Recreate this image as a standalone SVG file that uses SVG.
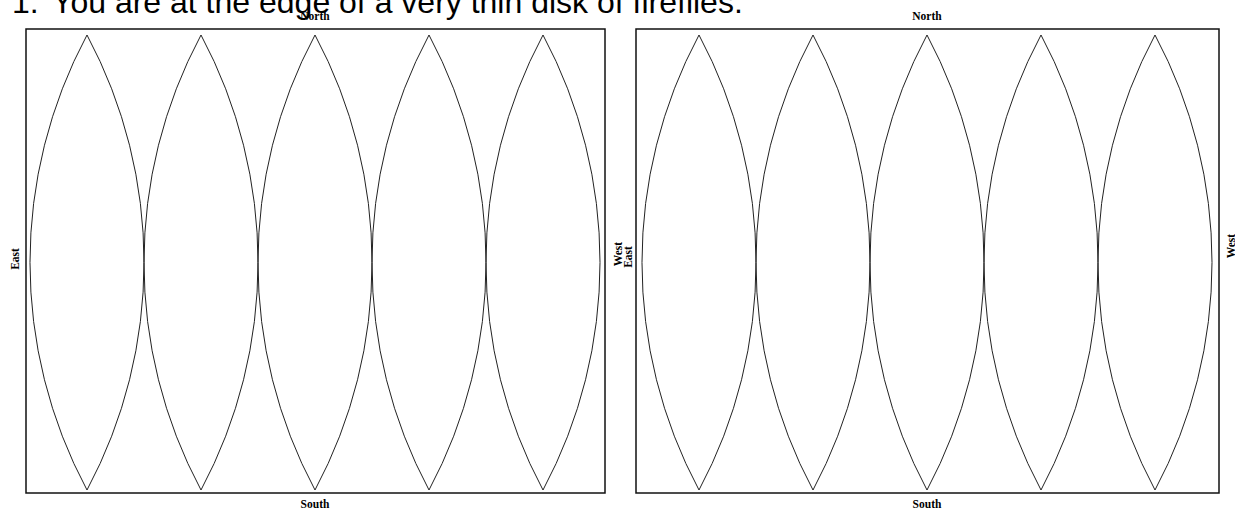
<svg xmlns="http://www.w3.org/2000/svg" width="1235" height="514" viewBox="0 0 1235 514">
<style>
.frame{fill:none;stroke:#111;stroke-width:1.5}
.lens{fill:none;stroke:#222;stroke-width:1}
.lbl{font-family:"Liberation Serif","Times New Roman",serif;font-size:11.5px;font-weight:bold;fill:#000}
.title{font-family:"Liberation Sans",Arial,sans-serif;font-size:32px;fill:#000}
</style>
<defs>
<path id="lens" class="lens" d="M0,35 A482.5,482.5 0 0 1 0,490 A482.5,482.5 0 0 1 0,35 Z"/>
</defs>
<rect width="1235" height="514" fill="#fff"/>
<text class="title" y="13"><tspan x="12">1.</tspan><tspan x="52">You are at the edge of a very thin disk of fireflies.</tspan></text>
<g id="panel-left">
<rect class="frame" x="26" y="29" width="579" height="464"/>
<use href="#lens" x="87"/>
<use href="#lens" x="201"/>
<use href="#lens" x="315"/>
<use href="#lens" x="429"/>
<use href="#lens" x="543"/>
<text class="lbl" x="315" y="20" text-anchor="middle">North</text>
<text class="lbl" x="315" y="508" text-anchor="middle">South</text>
<text class="lbl" text-anchor="middle" transform="translate(19,259) rotate(-90)">East</text>
<text class="lbl" text-anchor="middle" transform="translate(622,254) rotate(-90)">West</text>
</g>
<g id="panel-right">
<rect class="frame" x="636" y="29" width="583" height="464"/>
<use href="#lens" x="699"/>
<use href="#lens" x="813"/>
<use href="#lens" x="927"/>
<use href="#lens" x="1041"/>
<use href="#lens" x="1155"/>
<text class="lbl" x="927" y="20" text-anchor="middle">North</text>
<text class="lbl" x="927" y="508" text-anchor="middle">South</text>
<text class="lbl" text-anchor="middle" transform="translate(632,257) rotate(-90)">East</text>
<text class="lbl" text-anchor="middle" transform="translate(1235,246) rotate(-90)">West</text>
</g>
</svg>
